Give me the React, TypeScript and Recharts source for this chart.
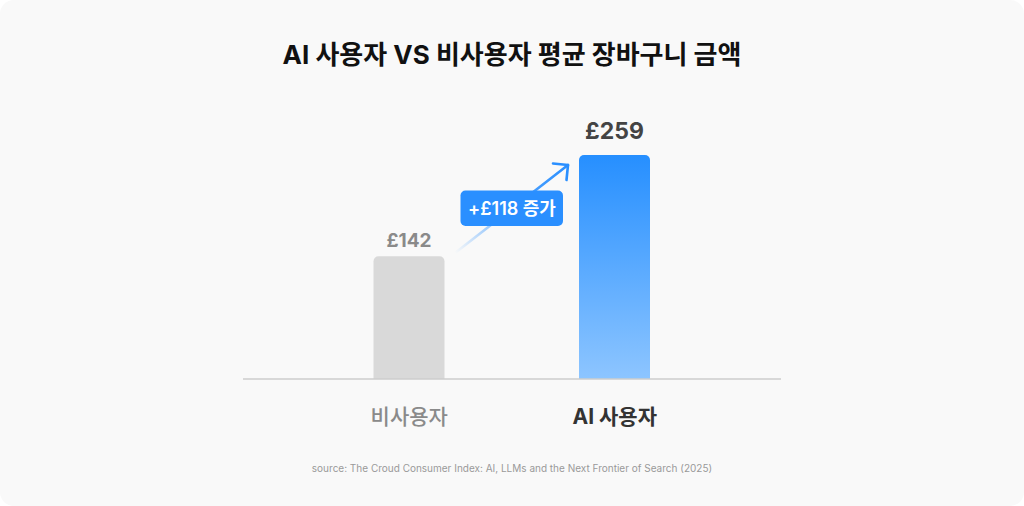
import React from "react";
import { BarChart, Bar, XAxis, YAxis, Cell, LabelList } from "recharts";

const categories = ["비사용자", "AI 사용자"];
const basketValues = [142, 259];
const valueLabels = ["£142", "£259"];
const increaseLabel = "+£118 증가";
const titleText = "AI 사용자 VS 비사용자 평균 장바구니 금액";
const sourceText = "source: The Croud Consumer Index: AI, LLMs and the Next Frontier of Search (2025)";

const data = categories.map((c, i) => ({ name: c, value: basketValues[i], label: valueLabels[i] }));

const FONT = "Inter, 'Noto Sans CJK KR', 'Noto Sans', sans-serif";

const CategoryTick = (props: any) => {
  const { x, y, payload, index } = props;
  const isAI = index === 1;
  return (
    <text
      x={x}
      y={y + 37}
      textAnchor="middle"
      fontFamily={FONT}
      fontSize={21}
      fontWeight={isAI ? 700 : 500}
      fill={isAI ? "#333333" : "#8a8a8a"}
    >
      {payload.value}
    </text>
  );
};

const ValueLabel = (props: any) => {
  const { x, y, width, index } = props;
  const cx = x + width / 2;
  if (index === 0) {
    return (
      <text x={cx} y={y - 9.5} textAnchor="middle" fontFamily={FONT} fontSize={19} fontWeight={700} fill="#8a8a8a">
        {valueLabels[0]}
      </text>
    );
  }
  const sx = x - 124;
  const sy = y + 98;
  const tx = x - 11;
  const ty = y + 10;
  return (
    <g>
      <defs>
        <linearGradient id="arrowGrad" gradientUnits="userSpaceOnUse" x1={sx} y1={sy} x2={tx} y2={ty}>
          <stop offset="0%" stopColor="#2a8fff" stopOpacity={0} />
          <stop offset="55%" stopColor="#2a8fff" stopOpacity={0.8} />
          <stop offset="100%" stopColor="#2a8fff" stopOpacity={1} />
        </linearGradient>
      </defs>
      <line x1={sx} y1={sy} x2={tx} y2={ty} stroke="url(#arrowGrad)" strokeWidth={2.6} strokeLinecap="round" />
      <polyline
        points={`${tx - 15},${ty - 1.5} ${tx},${ty} ${tx - 1.5},${ty + 15}`}
        fill="none"
        stroke="#2a8fff"
        strokeWidth={2.6}
        strokeLinecap="round"
        strokeLinejoin="round"
      />
      <rect x={x - 118.5} y={y + 35.5} width={102.5} height={35.5} rx={5} fill="#2a8fff" />
      <text x={x - 67} y={y + 60} textAnchor="middle" fontFamily={FONT} fontSize={18} fontWeight={600} fill="#ffffff">
        {increaseLabel}
      </text>
      <text x={cx} y={y - 15.7} textAnchor="middle" fontFamily={FONT} fontSize={23} fontWeight={700} fill="#444444">
        {valueLabels[1]}
      </text>
    </g>
  );
};

export default function App() {
  return (
    <div
      style={{
        position: "absolute",
        left: 0,
        top: 0,
        width: 1024,
        height: 506,
        background: "#ffffff",
      }}
    >
      <style>{`body{margin:0;}`}</style>
      <div
        style={{
          position: "absolute",
          left: 0,
          top: 0,
          width: 1024,
          height: 506,
          background: "#f9f9f9",
          borderRadius: 14,
        }}
      />
      <div
        style={{
          position: "absolute",
          left: 0,
          top: 38,
          width: 1024,
          textAlign: "center",
          fontFamily: FONT,
          fontSize: 26,
          fontWeight: 700,
          color: "#111111",
          lineHeight: "34px",
        }}
      >
        {titleText}
      </div>
      <div style={{ position: "absolute", left: 0, top: 0 }}>
        <BarChart
          width={1024}
          height={506}
          data={data}
          margin={{ top: 155, right: 243, bottom: 97, left: 243 }}
        >
          <defs>
            <linearGradient id="blueBar" x1="0" y1="0" x2="0" y2="1">
              <stop offset="0%" stopColor="#268fff" />
              <stop offset="100%" stopColor="#8dc5ff" />
            </linearGradient>
          </defs>
          <YAxis hide domain={[0, 259]} />
          <XAxis
            dataKey="name"
            height={30}
            padding={{ left: 63.5, right: 63.5 }}
            axisLine={{ stroke: "#cccccc", strokeWidth: 1.5 }}
            tickLine={false}
            tick={<CategoryTick />}
            interval={0}
          />
          <Bar dataKey="value" barSize={71} radius={[5, 5, 0, 0]} isAnimationActive={false}>
            {data.map((d, i) => (
              <Cell key={d.name} fill={i === 0 ? "#d9d9d9" : "url(#blueBar)"} />
            ))}
            <LabelList dataKey="label" content={<ValueLabel />} />
          </Bar>
        </BarChart>
      </div>
      <div
        style={{
          position: "absolute",
          left: 0,
          top: 460,
          width: 1024,
          textAlign: "center",
          fontFamily: FONT,
          fontSize: 10,
          color: "#9a9a9a",
          lineHeight: "16px",
        }}
      >
        {sourceText}
      </div>
    </div>
  );
}
